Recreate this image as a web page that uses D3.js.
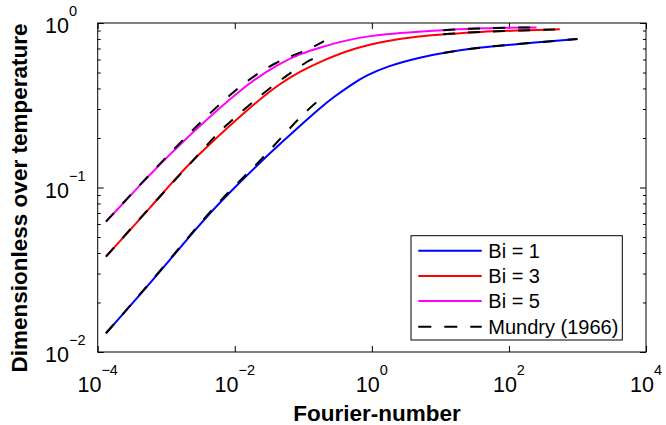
<!DOCTYPE html>
<html><head><meta charset="utf-8">
<script src="https://cdn.jsdelivr.net/npm/d3@7"></script>
<style>
body{margin:0;background:#fff;}
svg{display:block;font-family:"Liberation Sans",Arial,Helvetica,sans-serif;}
</style>
</head><body>
<svg id="chart" width="666" height="425"></svg>
<script>
// ---- data ----
const foTicks = [1e-4, 1e-2, 1e0, 1e2, 1e4];
const foTickExp = ["\u22124", "\u22122", "0", "2", "4"];
const thetaTicks = [1e-2, 1e-1, 1e0];
const thetaTickExp = ["\u22122", "\u22121", "0"];
const seriesNames = ["Bi = 1", "Bi = 3", "Bi = 5"];
const seriesColors = ["#0000ff", "#ff0000", "#ff00ff"];
const refName = "Mundry (1966)";
const xTitle = "Fourier-number";
const yTitle = "Dimensionless over temperature";

// solid curves [Fourier-number, dimensionless over temperature]
const bi1 = [[1.32e-4,0.013],[6.47e-4,0.0275],[2.62e-3,0.0552],[6.8e-3,0.086],[0.036,0.169],[0.0893,0.237],[0.175,0.304],[0.273,0.353],[0.535,0.43],[0.84,0.48],[1.64,0.545],[5.02,0.619],[12.3,0.664],[37.7,0.711],[92,0.735],[1000,0.80]];
const bi3 = [[1.32e-4,0.038],[6.47e-4,0.079],[1.58e-3,0.122],[3.47e-3,0.169],[0.0149,0.296],[0.0456,0.43],[0.0893,0.506],[0.175,0.582],[0.535,0.702],[1.64,0.78],[5.02,0.834],[12.3,0.857],[37.7,0.885],[150,0.90],[553,0.916]];
const bi5 = [[1.32e-4,0.062],[4.38e-4,0.106],[1.27e-3,0.169],[0.0149,0.43],[0.0456,0.569],[0.0893,0.648],[0.175,0.711],[0.535,0.807],[1.64,0.857],[5.02,0.885],[12.3,0.907],[37.7,0.932],[253,0.94]];

// Mundry (1966): short-time and long-time branches
const mundryShort1 = [[1.32e-4,0.013],[6.47e-4,0.0277],[2.62e-3,0.0558],[6.8e-3,0.088],[0.0233,0.1435],[0.08,0.257],[0.156,0.332],[0.2,0.356]];
const mundryShort3 = [[1.32e-4,0.038],[6.47e-4,0.08],[3.47e-3,0.17],[6.1e-3,0.224],[0.029,0.39],[0.064,0.495],[0.132,0.61],[0.2,0.64]];
const mundryShort5 = [[1.32e-4,0.062],[4.38e-4,0.107],[3.47e-3,0.263],[0.0149,0.45],[0.041,0.583],[0.1,0.669],[0.185,0.76],[0.2,0.775]];
const mundryLong1 = [[11,0.658],[37.7,0.711],[92,0.735],[1000,0.80]];
const mundryLong3 = [[11,0.855],[37.7,0.885],[150,0.90],[553,0.916]];
const mundryLong5 = [[11,0.905],[37.7,0.932],[253,0.94]];

// ---- drawing ----
const svg = d3.select("#chart");
const L = 97.7, R = 646, T = 23, B = 352;
const x = d3.scaleLog().domain([1e-4, 1e4]).range([L, R]);
const y = d3.scaleLog().domain([1e-2, 1]).range([B, T]);

const minorY = [];
[1e-2, 1e-1].forEach(d => { for (let k = 2; k <= 9; k++) minorY.push(d * k); });

function styleAxis(g) {
  g.select(".domain").remove();
  g.selectAll(".tick line").attr("stroke", "#000").attr("stroke-width", 1);
  g.selectAll(".tick text").remove();
}
svg.append("g").attr("transform", `translate(0,${B})`)
  .call(d3.axisBottom(x).tickValues(foTicks).tickSize(-6).tickSizeOuter(0).tickFormat("")).call(styleAxis);
svg.append("g").attr("transform", `translate(0,${T})`)
  .call(d3.axisTop(x).tickValues(foTicks).tickSize(-6).tickSizeOuter(0).tickFormat("")).call(styleAxis);
svg.append("g").attr("transform", `translate(${L},0)`)
  .call(d3.axisLeft(y).tickValues(thetaTicks).tickSize(-6).tickSizeOuter(0).tickFormat("")).call(styleAxis);
svg.append("g").attr("transform", `translate(${L},0)`)
  .call(d3.axisLeft(y).tickValues(minorY).tickSize(-3).tickSizeOuter(0).tickFormat("")).call(styleAxis);
svg.append("g").attr("transform", `translate(${R},0)`)
  .call(d3.axisRight(y).tickValues(thetaTicks).tickSize(-6).tickSizeOuter(0).tickFormat("")).call(styleAxis);
svg.append("g").attr("transform", `translate(${R},0)`)
  .call(d3.axisRight(y).tickValues(minorY).tickSize(-3).tickSizeOuter(0).tickFormat("")).call(styleAxis);

// frame
svg.append("rect").attr("x", L).attr("y", T).attr("width", R - L).attr("height", B - T)
  .attr("fill", "none").attr("stroke", "#000").attr("stroke-width", 1);

// tick labels
foTicks.forEach((v, i) => {
  const t = svg.append("text").attr("x", x(v)).attr("y", 391.7).attr("text-anchor", "middle")
    .attr("font-size", 21.5).attr("fill", "#000");
  t.append("tspan").text("10");
  t.append("tspan").attr("dy", -16.5).attr("font-size", 14.5).text(foTickExp[i]);
});
thetaTicks.forEach((v, i) => {
  const t = svg.append("text").attr("x", 45).attr("y", y(v) + 10).attr("text-anchor", "start")
    .attr("font-size", 21.5).attr("fill", "#000");
  t.append("tspan").text("10");
  t.append("tspan").attr("dy", -17).attr("font-size", 14.5).text(thetaTickExp[i]);
});

// axis titles
svg.append("text").attr("x", 377).attr("y", 421).attr("text-anchor", "middle")
  .attr("font-size", 22.5).attr("font-weight", "bold").text(xTitle);
svg.append("text").attr("transform", "translate(27,198) rotate(-90)").attr("text-anchor", "middle")
  .attr("font-size", 22.5).attr("font-weight", "bold").text(yTitle);

// curves
const line = d3.line().x(d => x(d[0])).y(d => y(d[1])).curve(d3.curveBasis);
const plot = svg.append("g");
[bi1, bi3, bi5].forEach((s, i) => {
  plot.append("path").datum(s).attr("d", line).attr("fill", "none")
    .attr("stroke", seriesColors[i]).attr("stroke-width", 2);
});
[mundryShort1, mundryShort3, mundryShort5, mundryLong1, mundryLong3, mundryLong5].forEach(s => {
  plot.append("path").datum(s).attr("d", line).attr("fill", "none")
    .attr("stroke", "#000").attr("stroke-width", 2).attr("stroke-dasharray", "12,13");
});

// legend
const lg = svg.append("g");
lg.append("rect").attr("x", 411).attr("y", 235.7).attr("width", 211.3).attr("height", 104.3)
  .attr("fill", "#fff").attr("stroke", "#000").attr("stroke-width", 1);
const rowsY = [250.7, 275.9, 301.1, 326.8];
const legItems = seriesNames.map((n, i) => ({name: n, color: seriesColors[i], dash: null}))
  .concat([{name: refName, color: "#000", dash: "13,13"}]);
legItems.forEach((it, i) => {
  lg.append("line").attr("x1", 418.3).attr("x2", 481.7).attr("y1", rowsY[i]).attr("y2", rowsY[i])
    .attr("stroke", it.color).attr("stroke-width", 2).attr("stroke-dasharray", it.dash);
  lg.append("text").attr("x", 488.3).attr("y", rowsY[i] + 6.8).attr("font-size", 20).text(it.name);
});
</script>
</body></html>
